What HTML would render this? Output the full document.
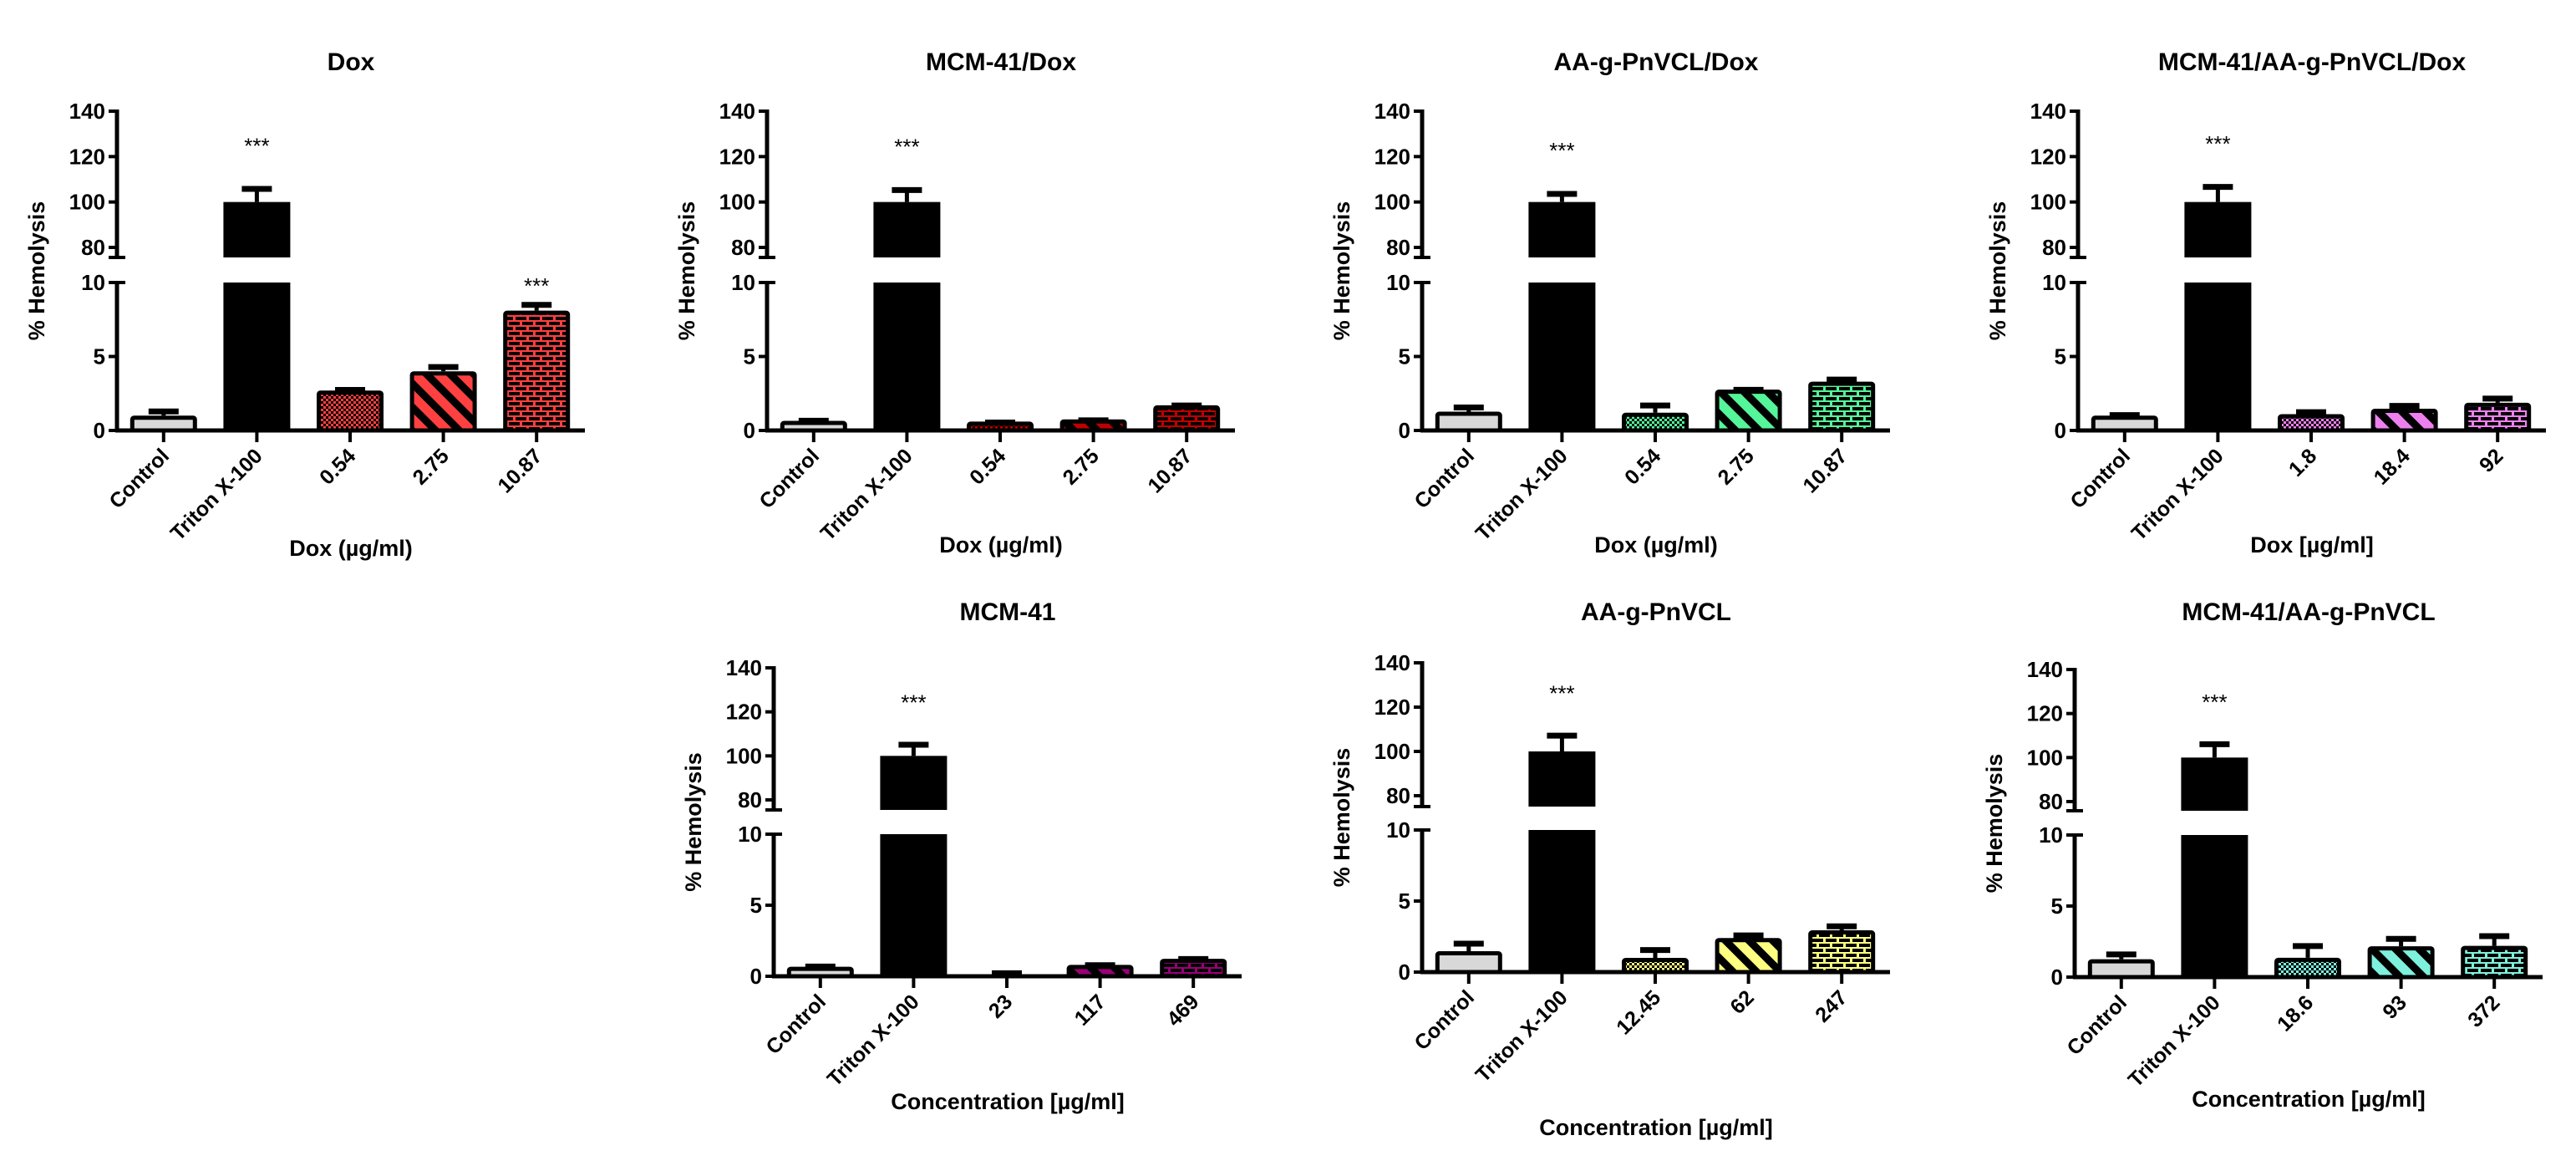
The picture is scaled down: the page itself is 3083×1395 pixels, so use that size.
<!DOCTYPE html>
<html><head><meta charset="utf-8"><style>
html,body{margin:0;padding:0;background:#fff;}
svg{display:block;font-family:"Liberation Sans",Arial,sans-serif;font-weight:bold;}
</style></head><body>
<svg id="fig" width="3083" height="1395" viewBox="0 0 3083 1395" xmlns="http://www.w3.org/2000/svg">
<defs id="defs"></defs>
</svg>
<script>
const panelTitles = ["Dox","MCM-41/Dox","AA-g-PnVCL/Dox","MCM-41/AA-g-PnVCL/Dox","MCM-41","AA-g-PnVCL","MCM-41/AA-g-PnVCL"];
const xTitles = ["Dox (\u00b5g/ml)","Dox (\u00b5g/ml)","Dox (\u00b5g/ml)","Dox [\u00b5g/ml]","Concentration [\u00b5g/ml]","Concentration [\u00b5g/ml]","Concentration [\u00b5g/ml]"];
const categories = [
 ["Control","Triton X-100","0.54","2.75","10.87"],
 ["Control","Triton X-100","0.54","2.75","10.87"],
 ["Control","Triton X-100","0.54","2.75","10.87"],
 ["Control","Triton X-100","1.8","18.4","92"],
 ["Control","Triton X-100","23","117","469"],
 ["Control","Triton X-100","12.45","62","247"],
 ["Control","Triton X-100","18.6","93","372"]];
const means = [
 [1.0,100,2.7,4.0,8.1],
 [0.65,100,0.6,0.75,1.7],
 [1.27,100,1.2,2.76,3.3],
 [1.0,100,1.1,1.47,1.87],
 [0.67,100,0.13,0.8,1.23],
 [1.47,100,1.0,2.4,2.94],
 [1.26,100,1.36,2.17,2.2]];
const errors = [
 [0.4,6.5,0.15,0.4,0.5],
 [0.12,6.0,0.05,0.05,0.1],
 [0.4,4.3,0.6,0.1,0.25],
 [0.15,7.4,0.25,0.3,0.4],
 [0.13,5.8,0.2,0.1,0.1],
 [0.65,7.9,0.67,0.3,0.4],
 [0.45,6.8,0.94,0.64,0.8]];
const significant = [
 [false,true,false,false,true],
 [false,true,false,false,false],
 [false,true,false,false,false],
 [false,true,false,false,false],
 [false,true,false,false,false],
 [false,true,false,false,false],
 [false,true,false,false,false]];
const upperTicks = [80,100,120,140];
const lowerTicks = [0,5,10];

// layout (not data)
const colors = ["#ff4040","#c00000","#55f59a","#ee80ee","#990077","#ffff80","#7ef0dc"];
const layout = [
 {ax:140,y140:133,y80:296,brk:308,y10:338,y0:515,xt:656},
 {ax:918,y140:133,y80:296,brk:308,y10:338,y0:515,xt:652},
 {ax:1702,y140:133,y80:296,brk:308,y10:338,y0:515,xt:652},
 {ax:2487,y140:133,y80:296,brk:308,y10:338,y0:515,xt:652},
 {ax:926,y140:799,y80:957,brk:969,y10:998,y0:1168,xt:1318,ty:742},
 {ax:1702,y140:793,y80:952,brk:965,y10:993,y0:1163,xt:1349,ty:742},
 {ax:2483,y140:801,y80:959,brk:970,y10:999,y0:1169,xt:1315,ty:742}];

const NS="http://www.w3.org/2000/svg";
const svg=document.getElementById('fig');
const defs=document.getElementById('defs');
function mk(tag,attrs,parent){const e=document.createElementNS(NS,tag);for(const k in attrs)e.setAttribute(k,attrs[k]);(parent||svg).appendChild(e);return e;}

// patterns
colors.forEach((c,i)=>{
 let p=mk('pattern',{id:'chk'+i,width:6,height:6,patternUnits:'userSpaceOnUse'},defs);
 mk('rect',{width:6,height:6,fill:c},p);
 mk('rect',{width:3,height:3,fill:'#000'},p);
 mk('rect',{x:3,y:3,width:3,height:3,fill:'#000'},p);
 p=mk('pattern',{id:'str'+i,width:20,height:20,patternUnits:'userSpaceOnUse',patternTransform:'rotate(-45)'},defs);
 mk('rect',{width:20,height:20,fill:c},p);
 mk('rect',{width:9,height:20,fill:'#000'},p);
 p=mk('pattern',{id:'brk'+i,width:16,height:12,patternUnits:'userSpaceOnUse'},defs);
 mk('rect',{width:16,height:12,fill:c},p);
 mk('rect',{x:1,y:1,width:13,height:4,fill:'#000'},p);
 mk('rect',{x:-7,y:7,width:13,height:4,fill:'#000'},p);
 mk('rect',{x:9,y:7,width:13,height:4,fill:'#000'},p);
});

const AXLEN=560, STEP=111.6, BW=80;
panelTitles.forEach((title,pi)=>{
 const L=layout[pi];
 const g=mk('g',{});
 
 
 const yU=v=>L.y80+(v-80)*(L.y140-L.y80)/60;
 const yL=v=>L.y0+(v)*(L.y10-L.y0)/10;
 const xC=i=>L.ax+STEP/2+i*STEP;
 const cx=L.ax+280;
 let t=mk('text',{x:cx,y:L.ty||74+10,'text-anchor':'middle','font-size':30},g);
 t.textContent=title;
 
 
 const ymid=(L.y140+L.y0)/2;
 t=mk('text',{x:0,y:0,'text-anchor':'middle','font-size':27,transform:`translate(${L.ax-87},${ymid}) rotate(-90)`},g);
 t.textContent='% Hemolysis';
 
 
 t=mk('text',{x:cx,y:L.xt+9,'text-anchor':'middle','font-size':27},g);
 t.textContent=xTitles[pi];
 
 
 categories[pi].forEach((cat,i)=>{
  const v=means[pi][i], e=errors[pi][i], x=xC(i);
  let fill;
  if(i===0) fill='#d8d8d8'; else if(i===1) fill='#000';
  else fill=`url(#${['chk','str','brk'][i-2]}${pi})`;
  if(v>10){
   const top=yU(v), et=yU(v+e);
   let ln=mk('line',{x1:x,x2:x,y1:top,y2:et,stroke:'#000','stroke-width':5},g);
   
   
   mk('line',{x1:x-18,x2:x+18,y1:et+2,y2:et+2,stroke:'#000','stroke-width':7},g);
   let r=mk('rect',{x:x-BW/2,y:top,width:BW,height:L.brk-top,fill:'#000'},g);
   
   
   r=mk('rect',{x:x-BW/2,y:L.y10,width:BW,height:L.y0-L.y10,fill:'#000'},g);
   
   
   if(significant[pi][i]){
    t=mk('text',{x:x,y:yU(v+e+15),'text-anchor':'middle','font-size':26,'font-weight':'normal'},g);
    t.textContent='***';
    
    
   }
  } else {
   const top=yL(v), et=yL(v+e);
   let ln=mk('line',{x1:x,x2:x,y1:top,y2:et,stroke:'#000','stroke-width':5},g);
   
   
   mk('line',{x1:x-18,x2:x+18,y1:et+2,y2:et+2,stroke:'#000','stroke-width':7},g);
   let r=mk('rect',{x:x-BW/2+2.5,y:top+2.5,width:BW-5,height:Math.max(0,L.y0-top-2.5),fill:fill,stroke:'#000','stroke-width':5,rx:2},g);
   
   
   if(significant[pi][i]){
    t=mk('text',{x:x,y:et-12,'text-anchor':'middle','font-size':26,'font-weight':'normal'},g);
    t.textContent='***';
    
    
   }
  }
  mk('line',{x1:x,x2:x,y1:L.y0,y2:L.y0+14,stroke:'#000','stroke-width':4},g);
  t=mk('text',{x:0,y:0,'text-anchor':'end','font-size':25,transform:`translate(${x+8},${L.y0+32}) rotate(-45)`},g);
  t.textContent=cat;
  
  
 });
 let a=mk('line',{x1:L.ax,x2:L.ax,y1:L.y140-2,y2:L.brk,stroke:'#000','stroke-width':5},g);
 
 
 mk('line',{x1:L.ax-10,x2:L.ax+10,y1:L.brk,y2:L.brk,stroke:'#000','stroke-width':4},g);
 a=mk('line',{x1:L.ax,x2:L.ax,y1:L.y10,y2:L.y0+2,stroke:'#000','stroke-width':5},g);
 
 
 mk('line',{x1:L.ax-10,x2:L.ax+10,y1:L.y10,y2:L.y10,stroke:'#000','stroke-width':4},g);
 a=mk('line',{x1:L.ax-2,x2:L.ax+AXLEN,y1:L.y0,y2:L.y0,stroke:'#000','stroke-width':5},g);
 
 
 upperTicks.forEach(v=>{
  const y=yU(v);
  mk('line',{x1:L.ax-10,x2:L.ax,y1:y,y2:y,stroke:'#000','stroke-width':4},g);
  t=mk('text',{x:L.ax-14,y:y+9,'text-anchor':'end','font-size':26},g);
  t.textContent=v;
  
  
 });
 lowerTicks.forEach(v=>{
  const y=yL(v);
  mk('line',{x1:L.ax-10,x2:L.ax,y1:y,y2:y,stroke:'#000','stroke-width':4},g);
  t=mk('text',{x:L.ax-14,y:y+9,'text-anchor':'end','font-size':26},g);
  t.textContent=v;
  
  
 });
});
</script>
</body></html>
